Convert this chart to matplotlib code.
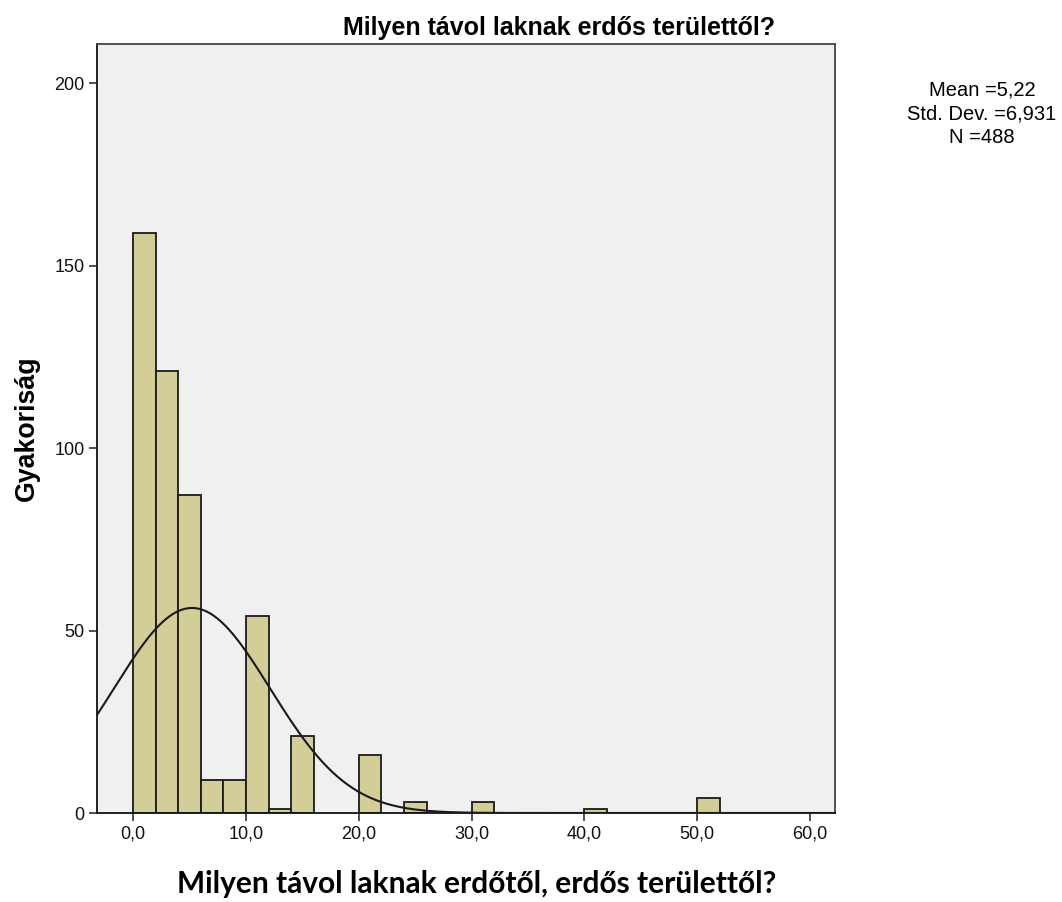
import numpy as np
import matplotlib
matplotlib.use("Agg")
import matplotlib.pyplot as plt

plt.rcParams['font.family'] = ['Liberation Sans', 'DejaVu Sans']

bin_left = [0, 2, 4, 6, 8, 10, 12, 14, 20, 24, 30, 40, 50]
counts = [159, 121, 87, 9, 9, 54, 1, 21, 16, 3, 3, 1, 4]
bin_width = 2.0
mean_val = 5.22
std_val = 6.931
n_val = 488
xticks = [0, 10, 20, 30, 40, 50, 60]
xticklabels = ["0,0", "10,0", "20,0", "30,0", "40,0", "50,0", "60,0"]
yticks = [0, 50, 100, 150, 200]

fig = plt.figure(figsize=(10.62, 9.02), dpi=100)
ax = fig.add_axes([97/1062, 1-813/902, (835-97)/1062, (813-44)/902])
ax.set_facecolor('#F0F0F0')

ax.bar(bin_left, counts, width=bin_width, align='edge', color='#D3CE97',
       edgecolor='#1a1a1a', linewidth=1.3, zorder=2)

xs = np.linspace(-3.2, 62.2, 600)
ys = n_val * bin_width * np.exp(-0.5 * ((xs - mean_val) / std_val) ** 2) / (std_val * np.sqrt(2 * np.pi))
ax.plot(xs, ys, color='#1a1a1a', linewidth=1.5, zorder=3)

ax.set_xlim(-3.2, 62.2)
ax.set_ylim(0, 210.7)
ax.set_xticks(xticks)
ax.set_xticklabels(xticklabels)
ax.set_yticks(yticks)
ax.tick_params(axis='both', direction='out', length=6, width=1.2, labelsize=13,
               colors='#333333', labelcolor='#111111', pad=3)
for s in ['left', 'bottom']:
    ax.spines[s].set_color('#111111')
    ax.spines[s].set_linewidth(1.3)
for s in ['top', 'right']:
    ax.spines[s].set_color('#444444')
    ax.spines[s].set_linewidth(1.3)

fig.text(559/1062, 1-28/902, 'Milyen távol laknak erdős területtől?', ha='center', va='center',
         fontsize=18, fontweight='bold')
fig.text(477/1062, 1-884/902, 'Milyen távol laknak erdőtől, erdős területtől?', ha='center', va='center',
         fontsize=21.5, fontweight='bold', family=['Lato', 'DejaVu Sans'])
fig.text(27/1062, 1-428/902, 'Gyakoriság', ha='center', va='center', rotation=90,
         fontsize=19.3, fontweight='bold')

fig.text(982/1062, 1-114/902, 'Mean =5,22\nStd. Dev. =6,931\nN =488', ha='center', va='center',
         fontsize=14.5, linespacing=1.3)

fig.savefig('out.png', dpi=100)
